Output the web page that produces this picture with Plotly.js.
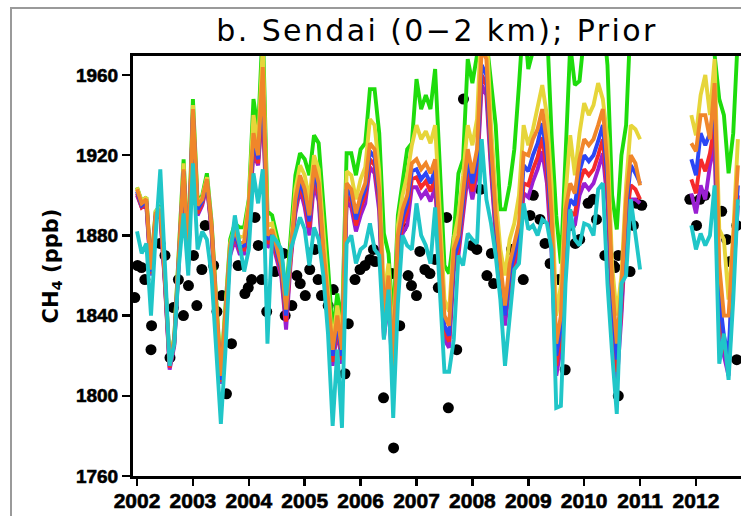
<!DOCTYPE html>
<html>
<head>
<meta charset="utf-8">
<script src="https://cdn.plot.ly/plotly-3.0.1.min.js"></script>
<style>
  html, body { margin: 0; padding: 0; background: #fff; overflow: hidden; width: 741px; height: 516px; }
  #chart { position: absolute; left: 0; top: 0; }
  #frame { position: absolute; left: 10px; top: 7px; width: 2000px; height: 2000px;
           border-left: 2px solid #9a9a9a; border-top: 2px solid #9a9a9a; pointer-events: none; z-index: 5; }
  .gtitle { letter-spacing: 2.4px; }
  .xtick text, .ytick text { stroke: #000; stroke-width: 0.6px; }
</style>
</head>
<body>
<div id="chart"></div>
<div id="frame"></div>
<script>
// ---- Data (monthly model values, Jan 2002 .. Oct 2012; null = no data) ----
const startYear = 2002;
const N = null;
const gap = [N,N,N,N,N,N,N,N,N,N]; // Feb-Nov 2011

const green = [
  1904,1897,1899,1864,1892,1895,1859,1817,1829,1873,1918,1870,
  1948,1897,1900,1911,1887,1848,1812,1845,1878,1886,1884,1884,
  1898,1948,1932,1985,1892,1890,1880,1870,1850,1880,1910,1921,
  1918,1910,1930,1926,1898,1865,1831,1851,1835,1921,1921,1910,
  1923,1926,1953,1953,1931,1881,1871,1835,1890,1906,1923,1926,
  1958,1943,1950,1943,1963,1915,1865,1861,1880,1911,1918,1968,
  1956,1970,1985,1978,1958,1935,1893,1893,1905,1923,1955,1990,
  1963,1972,1985,1990,1985,1930,1890,1866,1920,1975,1955,1957,
  1980,1990,1990,1985,1990,1965,1900,1883,1920,1935,1990,2000,
  2000,...gap,1990,
  1995,2000,1990,1985,1970,1948,1940,1911,1931,1980];

const yellow = [
  1904,1897,1899,1864,1892,1894,1859,1817,1829,1873,1916,1869,
  1945,1896,1899,1909,1886,1846,1811,1843,1876,1884,1879,1880,
  1897,1940,1925,1975,1885,1886,1876,1867,1846,1876,1903,1915,
  1910,1898,1920,1913,1880,1853,1826,1845,1828,1912,1910,1898,
  1908,1914,1938,1935,1912,1850,1866,1822,1885,1900,1910,1925,
  1935,1928,1932,1926,1935,1890,1848,1842,1878,1890,1910,1935,
  1925,1938,1990,1985,1935,1900,1873,1860,1878,1886,1900,1935,
  1925,1933,1945,1955,1940,1905,1840,1855,1900,1930,1910,1931,
  1946,1940,1945,1956,1948,1928,1865,1840,1860,1905,1935,1933,
  1928,...gap,1940,
  1930,1950,1960,1940,1968,1883,1878,1848,1881,1928];

const orange = [
  1903,1896,1898,1863,1891,1893,1858,1816,1828,1872,1913,1868,
  1943,1895,1898,1908,1885,1845,1810,1841,1875,1883,1876,1877,
  1895,1931,1920,1964,1880,1883,1873,1865,1843,1873,1898,1910,
  1903,1890,1915,1906,1873,1848,1823,1840,1823,1906,1903,1891,
  1900,1906,1926,1923,1903,1840,1860,1814,1880,1893,1900,1916,
  1918,1913,1916,1911,1918,1880,1840,1835,1873,1880,1901,1923,
  1911,1923,1973,1968,1925,1890,1866,1845,1866,1876,1886,1921,
  1920,1928,1933,1943,1926,1890,1826,1840,1893,1906,1901,1918,
  1928,1925,1928,1935,1943,1915,1856,1826,1853,1898,1920,1916,
  1905,...gap,1926,
  1922,1940,1940,1928,1956,1865,1840,1840,1881,1915];

const blue = [
  1902,1895,1897,1862,1890,1892,1857,1815,1827,1871,1912,1867,
  1941,1893,1897,1907,1884,1843,1808,1839,1873,1881,1874,1875,
  1892,1927,1918,1955,1878,1881,1871,1863,1840,1871,1895,1907,
  1900,1887,1912,1903,1870,1845,1820,1837,1820,1903,1900,1888,
  1897,1903,1922,1919,1899,1836,1856,1810,1876,1889,1896,1912,
  1913,1908,1911,1906,1913,1875,1835,1830,1868,1876,1897,1918,
  1906,1918,1965,1960,1920,1886,1861,1840,1861,1871,1880,1915,
  1912,1920,1926,1936,1919,1883,1820,1834,1886,1898,1895,1912,
  1920,1917,1920,1927,1935,1908,1850,1818,1848,1893,1915,1911,
  1906,...gap,1918,
  1910,1931,1925,1931,1945,1850,1830,1820,1870,1905];

const red = [
  1901,1894,1896,1861,1889,1891,1856,1814,1826,1870,1911,1866,
  1940,1891,1896,1906,1883,1842,1807,1838,1872,1880,1873,1873,
  1890,1924,1916,1950,1876,1879,1869,1861,1837,1869,1893,1905,
  1897,1884,1909,1900,1867,1843,1817,1835,1818,1900,1897,1885,
  1894,1900,1918,1915,1896,1833,1852,1807,1873,1885,1892,1908,
  1909,1904,1907,1902,1909,1871,1832,1827,1865,1873,1894,1914,
  1902,1914,1960,1955,1916,1883,1858,1840,1858,1868,1877,1906,
  1905,1913,1919,1929,1912,1877,1815,1829,1881,1892,1890,1906,
  1913,1910,1913,1920,1928,1902,1845,1812,1844,1888,1905,1903,
  1898,...gap,1908,
  1901,1918,1912,1921,1935,1840,1825,1815,1865,1900];

const purple = [
  1900,1894,1895,1860,1889,1890,1855,1813,1825,1869,1910,1865,
  1939,1890,1895,1905,1882,1841,1806,1837,1870,1878,1871,1871,
  1888,1921,1915,1945,1874,1877,1867,1859,1833,1867,1891,1903,
  1894,1880,1906,1897,1864,1841,1815,1833,1816,1897,1894,1882,
  1890,1896,1914,1911,1892,1829,1848,1804,1869,1881,1885,1904,
  1904,1899,1902,1897,1904,1867,1828,1824,1862,1870,1891,1910,
  1898,1910,1955,1950,1912,1880,1855,1835,1855,1865,1874,1901,
  1899,1907,1913,1922,1906,1871,1810,1824,1876,1887,1885,1900,
  1906,1903,1906,1913,1921,1896,1840,1806,1840,1884,1898,1898,
  1896,...gap,1901,
  1891,1905,1898,1915,1925,1830,1820,1810,1860,1895];

const cyan = [
  1882,1871,1876,1840,1880,1913,1865,1815,1826,1865,1891,1860,
  1916,1873,1882,1878,1860,1826,1786,1823,1870,1890,1875,1862,
  1873,1911,1896,1913,1826,1880,1877,1873,1850,1873,1881,1889,
  1883,1865,1884,1878,1860,1831,1785,1823,1784,1876,1880,1866,
  1873,1875,1886,1873,1870,1828,1853,1789,1846,1880,1875,1873,
  1896,1880,1875,1866,1894,1853,1812,1812,1828,1870,1865,1881,
  1878,1876,1928,1898,1886,1870,1848,1815,1840,1863,1866,1896,
  1883,1885,1880,1888,1886,1873,1794,1795,1856,1893,1878,1875,
  1886,1885,1880,1903,1906,1856,1821,1791,1856,1860,1898,1881,
  1863,...gap,1885,
  1873,1881,1875,1880,1905,1816,1831,1808,1848,1898];

// Observations (decimal year, ppb)
const obsYear = [
  2001.96,2002.01,2002.08,2002.14,2002.25,2002.26,2002.41,2002.50,2002.59,2002.65,2002.74,2002.83,2002.92,
  2003.01,2003.07,2003.16,2003.22,2003.37,2003.43,2003.52,2003.60,2003.69,2003.81,2003.93,2003.99,
  2004.05,2004.11,2004.17,2004.23,2004.32,2004.47,2004.62,2004.65,2004.77,2004.86,2004.92,
  2005.01,2005.09,2005.18,2005.24,2005.30,2005.42,2005.51,2005.72,2005.78,2005.90,2005.99,
  2006.08,2006.17,2006.23,2006.26,2006.41,2006.56,2006.59,2006.70,2006.74,2006.85,2006.91,
  2007.00,2007.06,2007.15,2007.24,2007.33,2007.39,2007.54,2007.57,2007.72,2007.84,2007.99,
  2008.08,2008.14,2008.26,2008.34,2008.38,2008.55,2008.61,2008.70,2008.91,
  2009.03,2009.09,2009.21,2009.30,2009.39,2009.54,2009.66,2009.75,2009.84,2009.92,
  2010.07,2010.16,2010.22,2010.37,2010.52,2010.55,2010.61,2010.61,2010.82,2010.88,2010.94,
  2011.03,2011.89,2012.01,2012.07,2012.16,2012.46,2012.55,2012.61,2012.73,2012.73];
const obsValue = [
  1849,1865,1864,1858,1823,1835,1876,1870,1819,1844,1858,1840,1855,
  1870,1845,1863,1885,1865,1842,1850,1801,1826,1865,1851,1854,
  1858,1889,1875,1858,1842,1862,1871,1840,1845,1860,1856,
  1850,1863,1873,1858,1850,1845,1853,1811,1836,1858,1863,
  1865,1868,1873,1867,1799,1861,1774,1835,1884,1860,1855,
  1850,1872,1863,1861,1868,1854,1889,1794,1823,1948,1875,
  1873,1903,1860,1871,1856,1863,1851,1873,1858,
  1890,1900,1888,1876,1866,1858,1813,1885,1876,1878,
  1896,1898,1888,1870,1865,1864,1870,1800,1862,1885,1896,
  1895,1898,1885,1898,1900,1892,1878,1867,1818,1885];

const yTicks = [1760, 1800, 1840, 1880, 1920, 1960];
const xTicks = [2002, 2003, 2004, 2005, 2006, 2007, 2008, 2009, 2010, 2011, 2012];

// ---- Build traces ----
const months = orange.map((_, i) => startYear + i / 12);

function lineTrace(vals, color) {
  return { x: months, y: vals, type: 'scatter', mode: 'lines',
           line: { color: color, width: 3.9 }, hoverinfo: 'skip', connectgaps: false };
}

const traces = [
  { x: obsYear, y: obsValue, type: 'scatter', mode: 'markers',
    marker: { color: '#000', size: 11 }, hoverinfo: 'skip' },
  lineTrace(green,  '#1edc0c'),
  lineTrace(yellow, '#e6d53a'),
  lineTrace(purple, '#9a1fd2'),
  lineTrace(red,    '#f52a2a'),
  lineTrace(blue,   '#2c46f5'),
  lineTrace(orange, '#f0862a'),
  lineTrace(cyan,   '#20c6c8')
];

const tickFontX = { family: 'Liberation Sans, Arial, sans-serif', size: 21, color: '#000', weight: 'bold' };
const tickFontY = { family: 'Liberation Sans, Arial, sans-serif', size: 19, color: '#000', weight: 'bold' };

const layout = {
  width: 746, height: 516,
  margin: { l: 133, r: 0, t: 56, b: 40, pad: 0 },
  paper_bgcolor: '#fff', plot_bgcolor: '#fff',
  showlegend: false,
  title: {
    text: 'b. Sendai (0\u22122 km); Prior',
    font: { family: 'DejaVu Sans, sans-serif', size: 30, color: '#000' },
    xref: 'container', x: 437 / 746, xanchor: 'center',
    yref: 'container', y: 1 - 30 / 516, yanchor: 'middle'
  },
  xaxis: {
    type: 'linear', range: [2001.928, 2012.895],
    tickvals: xTicks, ticktext: xTicks.map(String),
    ticks: 'outside', ticklen: 7, tickwidth: 2.5, tickcolor: '#000',
    ticklabelstandoff: -3,
    showline: true, linewidth: 3, linecolor: '#000', mirror: true,
    showgrid: false, zeroline: false, tickfont: tickFontX
  },
  yaxis: {
    range: [1760, 1969.5],
    tickvals: yTicks, ticktext: yTicks.map(String),
    ticks: 'outside', ticklen: 8, tickwidth: 2.5, tickcolor: '#000',
    showline: true, linewidth: 3, linecolor: '#000', mirror: true,
    showgrid: false, zeroline: false, tickfont: tickFontY,
    title: { text: 'CH<sub>4</sub> (ppb)', standoff: 12,
             font: { family: 'DejaVu Sans, sans-serif', size: 21, color: '#000', weight: 'bold' } }
  }
};

Plotly.newPlot('chart', traces, layout, { staticPlot: true, displayModeBar: false });
</script>
</body>
</html>
